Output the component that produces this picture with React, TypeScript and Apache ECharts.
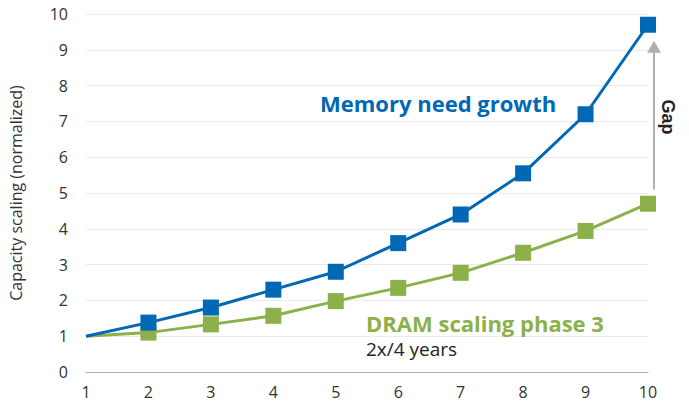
import React, { useEffect, useRef } from "react";
import * as echarts from "echarts";

const years = ["1", "2", "3", "4", "5", "6", "7", "8", "9", "10"];
const memoryNeed = [1, 1.38, 1.8, 2.3, 2.8, 3.6, 4.4, 5.55, 7.2, 9.7];
const dramScaling = [1, 1.1, 1.33, 1.57, 1.98, 2.35, 2.77, 3.33, 3.94, 4.7];
const yTicks = { min: 0, max: 10, interval: 1 };

const BLUE = "#0068b5";
const GREEN = "#8cb04a";

function withFirstHidden(vals: number[]) {
  return vals.map((v, i) => (i === 0 ? { value: v, symbol: "none" } : v));
}

export default function App() {
  const ref = useRef<HTMLDivElement>(null);
  useEffect(() => {
    const chart = echarts.init(ref.current!, null, { renderer: "svg" });
    const font = "'Open Sans', Lato, sans-serif";
    chart.setOption({
      animation: false,
      grid: { left: 84, right: 41, top: 14, bottom: 32 },
      xAxis: {
        type: "category",
        data: years,
        boundaryGap: false,
        axisLine: { lineStyle: { color: "#aaaaaa", width: 1 } },
        axisTick: { show: false },
        axisLabel: { color: "#333", fontSize: 16, fontFamily: font, margin: 12 },
        splitLine: { show: false },
      },
      yAxis: {
        type: "value",
        min: yTicks.min,
        max: yTicks.max,
        interval: yTicks.interval,
        name: "Capacity scaling (normalized)",
        nameLocation: "middle",
        nameGap: 62,
        nameTextStyle: { color: "#333", fontSize: 16, fontFamily: font },
        axisLine: { show: false },
        axisTick: { show: false },
        axisLabel: { color: "#333", fontSize: 16, fontFamily: font, margin: 18 },
        splitLine: { lineStyle: { color: "#ebebeb", width: 1 } },
      },
      series: [
        {
          type: "line",
          data: withFirstHidden(dramScaling),
          symbol: "rect",
          symbolSize: 16,
          lineStyle: { color: GREEN, width: 3 },
          itemStyle: { color: GREEN },
          z: 2,
        },
        {
          type: "line",
          data: withFirstHidden(memoryNeed),
          symbol: "rect",
          symbolSize: 16,
          lineStyle: { color: BLUE, width: 3 },
          itemStyle: { color: BLUE },
          z: 3,
        },
      ],
    });

    const bottom = chart.convertToPixel({ xAxisIndex: 0, yAxisIndex: 0 }, [9, 5.1]) as number[];
    const top = chart.convertToPixel({ xAxisIndex: 0, yAxisIndex: 0 }, [9, 9.25]) as number[];
    const ax = bottom[0] + 6;
    chart.setOption({
      graphic: [
        {
          type: "line",
          shape: { x1: ax, y1: bottom[1], x2: ax, y2: top[1] + 10 },
          style: { stroke: "#b0b0b0", lineWidth: 2 },
        },
        {
          type: "polygon",
          shape: { points: [[ax, top[1]], [ax - 7, top[1] + 12], [ax + 7, top[1] + 12]] },
          style: { fill: "#b0b0b0" },
        },
        {
          type: "text",
          x: ax + 14,
          y: 117,
          rotation: -Math.PI / 2,
          style: {
            text: "Gap",
            fill: "#222",
            font: "bold 18px 'Liberation Sans', Arial, sans-serif",
            align: "center",
            verticalAlign: "middle",
          },
        },
        {
          type: "text",
          x: 320,
          y: 103,
          style: {
            text: "Memory need growth",
            fill: BLUE,
            font: "bold 22px " + font,
            verticalAlign: "middle",
          },
        },
        {
          type: "text",
          x: 366,
          y: 323,
          style: {
            text: "DRAM scaling phase 3",
            fill: GREEN,
            font: "bold 22px " + font,
            verticalAlign: "middle",
          },
        },
        {
          type: "text",
          x: 366,
          y: 349,
          style: {
            text: "2x/4 years",
            fill: "#222",
            font: "19px " + font,
            verticalAlign: "middle",
          },
        },
      ],
    });
    return () => chart.dispose();
  }, []);
  return <div ref={ref} style={{ width: 689, height: 404, position: "absolute", left: 0, top: 0 }} />;
}
